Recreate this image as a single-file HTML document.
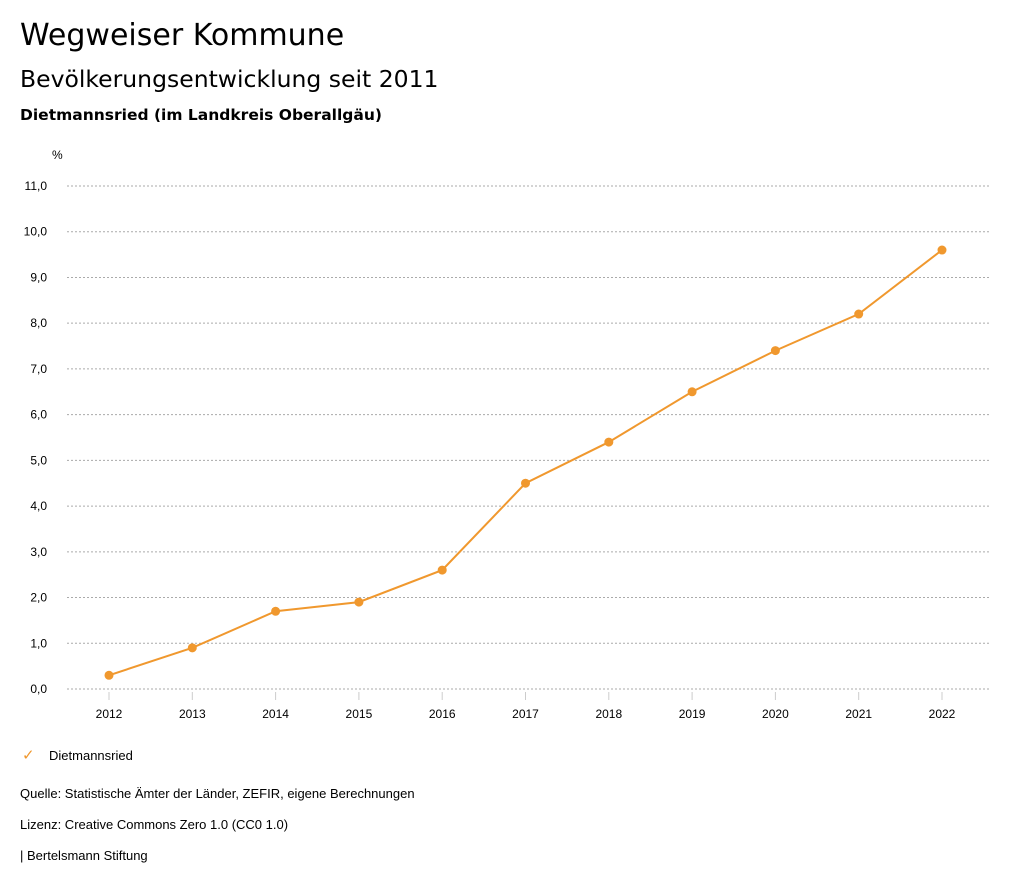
<!DOCTYPE html>
<html><head><meta charset="utf-8"><style>
body{margin:0;width:1024px;height:888px;background:#fff;font-family:"Liberation Sans",sans-serif;color:#000;overflow:hidden}
.t{position:absolute;white-space:nowrap}
</style></head><body>
<div class="t" style="left:20px;top:18px;font-size:30px;font-family:'DejaVu Sans',sans-serif">Wegweiser Kommune</div>
<div class="t" style="left:20px;top:65px;font-size:23.5px;font-family:'DejaVu Sans',sans-serif">Bevölkerungsentwicklung seit 2011</div>
<div class="t" style="left:20px;top:106px;font-size:15.5px;font-weight:bold;font-family:'DejaVu Sans',sans-serif">Dietmannsried (im Landkreis Oberallgäu)</div>
<svg id="chart" width="1024" height="888" style="position:absolute;left:0;top:0">
<text x="52" y="159" font-size="12" font-family="Liberation Sans">%</text>
<g id="grid"></g><g id="xt"></g><g id="series"></g>
</svg>
<div class="t" style="left:22px;top:746px;font-size:13px"><span style="color:#f0982e;font-size:15px">✓</span>&nbsp;&nbsp;&nbsp;&nbsp;Dietmannsried</div>
<div class="t" style="left:20px;top:786px;font-size:13px">Quelle: Statistische Ämter der Länder, ZEFIR, eigene Berechnungen</div>
<div class="t" style="left:20px;top:817px;font-size:13px">Lizenz: Creative Commons Zero 1.0 (CC0 1.0)</div>
<div class="t" style="left:20px;top:848px;font-size:13px">| Bertelsmann Stiftung</div>
<script>
const years=[2012,2013,2014,2015,2016,2017,2018,2019,2020,2021,2022];
const values=[0.3,0.9,1.7,1.9,2.6,4.5,5.4,6.5,7.4,8.2,9.6];
const yTicks=[0,1,2,3,4,5,6,7,8,9,10,11];
const NS="http://www.w3.org/2000/svg";
const y=v=>689-v*(503/11);
const x=i=>109+i*(833/10);
function mk(tag,attrs,parent){const e=document.createElementNS(NS,tag);for(const k in attrs)e.setAttribute(k,attrs[k]);parent.appendChild(e);return e;}
const grid=document.getElementById('grid'),xt=document.getElementById('xt'),ser=document.getElementById('series');
yTicks.forEach(v=>{
 const l=mk('line',{x1:67,x2:990,y1:y(v),y2:y(v),stroke:'#aaa','stroke-dasharray':'2,2'},grid);
 
 
 const t=mk('text',{x:47,y:y(v)+4,'text-anchor':'end','font-size':12,'font-family':'Liberation Sans'},grid);
 t.textContent=v.toFixed(1).replace('.',',');
 
 
});
years.forEach((yr,i)=>{
 const l=mk('line',{x1:x(i),x2:x(i),y1:692,y2:700,stroke:'#ccc'},xt);
 
 
 const t=mk('text',{x:x(i),y:718,'text-anchor':'middle','font-size':12,'font-family':'Liberation Sans'},xt);
 t.textContent=yr;
 
 
});
const p=mk('polyline',{points:values.map((v,i)=>x(i)+','+y(v)).join(' '),fill:'none',stroke:'#f0982e','stroke-width':2},ser);


values.forEach((v,i)=>{
 const c=mk('circle',{cx:x(i),cy:y(v),r:4.5,fill:'#f0982e'},ser);
 
 
});
</script>
</body></html>
